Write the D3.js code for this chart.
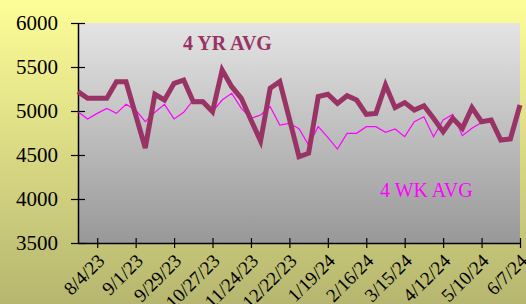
<!DOCTYPE html>
<html>
<head>
<meta charset="utf-8">
<script src="https://cdn.jsdelivr.net/npm/d3@7"></script>
<style>
  body { margin: 0; }
  svg { display: block; font-family: "Liberation Serif", "Times New Roman", serif; }
</style>
</head>
<body>
<svg id="chart" width="526" height="304"></svg>
<script>
// weekly points, first week 7/21/23
var startDate = "7/21/23";
var yrAvg = [5220, 5145, 5145, 5145, 5333, 5333, 4955, 4580, 5190, 5125,
             5315, 5352, 5106, 5106, 4992, 5466, 5276, 5144, 4898, 4659,
             5258, 5333, 4910, 4480, 4520, 5163, 5190, 5087, 5174, 5125,
             4962, 4973, 5295, 5038, 5095, 5011, 5060, 4917, 4765, 4917,
             4803, 5038, 4878, 4898, 4670, 4682, 5068];
var wkAvg = [4992, 4910, 4973, 5030, 4973, 5076, 5011, 4878, 4985, 5076,
             4910, 4985, 5125, 5125, 4992, 5125, 5201, 5030, 4917, 4955,
             5049, 4841, 4860, 4800, 4614, 4822, 4700, 4568, 4746, 4746,
             4822, 4822, 4758, 4795, 4708, 4878, 4935, 4708, 4898, 4962,
             4720, 4803, 4870];
var tickLabels = ["8/4/23", "9/1/23", "9/29/23", "10/27/23", "11/24/23", "12/22/23",
                  "1/19/24", "2/16/24", "3/15/24", "4/12/24", "5/10/24", "6/7/24"];
var yTicks = [3500, 4000, 4500, 5000, 5500, 6000];

var parse = d3.timeParse("%m/%d/%y");
var t0 = parse(startDate);
var dates = yrAvg.map(function(d, i) { return d3.timeWeek.offset(t0, i); });

var svg = d3.select("#chart");
var W = 526, H = 304;
var margin = {top: 23, right: 6, bottom: 61, left: 78};
var width = W - margin.left - margin.right,
    height = H - margin.top - margin.bottom;

var defs = svg.append("defs");
var bg = defs.append("linearGradient").attr("id", "bg").attr("x1", 0).attr("y1", 0).attr("x2", 0).attr("y2", 1);
bg.append("stop").attr("offset", "0%").attr("stop-color", "#fdfd98");
bg.append("stop").attr("offset", "100%").attr("stop-color", "#b6b670");
var pg = defs.append("linearGradient").attr("id", "pg").attr("x1", 0).attr("y1", 0).attr("x2", 0).attr("y2", 1);
pg.append("stop").attr("offset", "0%").attr("stop-color", "#e4e4e4");
pg.append("stop").attr("offset", "100%").attr("stop-color", "#989898");

svg.append("rect").attr("width", W).attr("height", H).attr("fill", "url(#bg)");

var g = svg.append("g").attr("transform", "translate(" + margin.left + "," + margin.top + ")");

g.append("rect").attr("width", width).attr("height", height).attr("fill", "url(#pg)");

var x = d3.scaleTime().domain([dates[0], dates[dates.length - 1]]).range([0, width]);
var y = d3.scaleLinear().domain([3500, 6000]).range([height, 0]);

// y axis
var yAxis = g.append("g")
    .call(d3.axisLeft(y).tickValues(yTicks).tickFormat(d3.format("d"))
        .tickSize(7).tickSizeOuter(0).tickPadding(13));
yAxis.select(".domain").attr("stroke", "#000").attr("stroke-width", 1.5);
yAxis.selectAll(".tick line").attr("x2", 7).attr("x1", -7).attr("stroke", "#000").attr("stroke-width", 1.2);
yAxis.selectAll(".tick text").attr("font-size", "21px").attr("fill", "#000")
    .attr("font-family", "Liberation Serif, serif");

// x axis
var xAxis = g.append("g").attr("transform", "translate(0," + height + ")")
    .call(d3.axisBottom(x).tickValues(tickLabels.map(parse)).tickSize(5).tickSizeOuter(0)
        .tickFormat(function(d, i) { return tickLabels[i]; }));
xAxis.select(".domain").attr("stroke", "#000").attr("stroke-width", 1.5);
xAxis.selectAll(".tick line").attr("y1", -5).attr("stroke", "#000").attr("stroke-width", 1.2);
xAxis.selectAll(".tick text")
    .attr("font-size", "19px").attr("fill", "#000")
    .attr("font-family", "Liberation Serif, serif")
    .attr("text-anchor", "end")
    .attr("dy", null).attr("y", 0)
    .attr("transform", "translate(8,19) rotate(-45)");

var line = d3.line()
    .x(function(d, i) { return x(dates[i]); })
    .y(function(d) { return y(d); });

g.append("path").datum(wkAvg)
    .attr("fill", "none").attr("stroke", "#ff00ff").attr("stroke-width", 1.2)
    .attr("d", line);

g.append("path").datum(yrAvg)
    .attr("fill", "none").attr("stroke", "#993366").attr("stroke-width", 5)
    .attr("stroke-linejoin", "miter")
    .attr("d", line);

g.append("text").attr("x", 105).attr("y", 27)
    .attr("font-size", "20px").attr("font-weight", "bold").attr("fill", "#993366")
    .text("4 YR AVG");
g.append("text").attr("x", 302).attr("y", 174)
    .attr("font-size", "20px").attr("fill", "#ff00ff")
    .text("4 WK AVG");
</script>
</body>
</html>
